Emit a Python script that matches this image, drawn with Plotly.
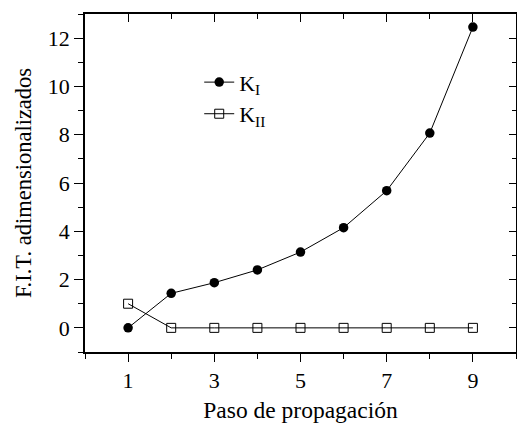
import plotly.graph_objects as go

pasos = [1, 2, 3, 4, 5, 6, 7, 8, 9]
k1 = [0.0, 1.43, 1.87, 2.40, 3.14, 4.15, 5.68, 8.07, 12.46]
k2 = [1.0, 0, 0, 0, 0, 0, 0, 0, 0]
x_ticks = [1, 3, 5, 7, 9]
y_ticks = [0, 2, 4, 6, 8, 10, 12]

FONT = "Liberation Serif"

fig = go.Figure()
fig.add_trace(go.Scatter(
    x=pasos, y=k1, mode="lines+markers", name="K<sub>I</sub>",
    line=dict(color="black", width=1),
    marker=dict(symbol="circle", size=9.5, color="black"),
))
fig.add_trace(go.Scatter(
    x=pasos, y=k2, mode="lines+markers", name="K<sub>II</sub>",
    line=dict(color="black", width=1),
    marker=dict(symbol="square-open", size=9, color="black", line=dict(width=1)),
))
# empty trace so the mirrored (top/right) axes get drawn
fig.add_trace(go.Scatter(x=[], y=[], xaxis="x2", yaxis="y2", showlegend=False,
                         hoverinfo="skip"))

common = dict(showgrid=False, zeroline=False, showline=True, linecolor="black",
              linewidth=1.5, tickcolor="black", tickwidth=1.2, automargin=False)

fig.update_layout(
    width=517, height=425,
    margin=dict(l=85, r=1, t=14, b=73),
    paper_bgcolor="white", plot_bgcolor="white",
    font=dict(family=FONT, size=22, color="black"),
    showlegend=True,
    legend=dict(x=0.265, y=0.86, xanchor="left", yanchor="top",
                bgcolor="rgba(0,0,0,0)", font=dict(family=FONT, size=22, color="black"),
                tracegroupgap=0),
    xaxis=dict(range=[0, 10], tickmode="array", tickvals=x_ticks,
               ticks="outside", ticklen=8,
               tickfont=dict(family=FONT, size=22, color="black"),
               minor=dict(dtick=1, tick0=0, ticks="outside", ticklen=5, tickcolor="black"),
               title=dict(text="Paso de propagación", standoff=9,
                          font=dict(family=FONT, size=23.5, color="black")),
               **common),
    yaxis=dict(range=[-1, 13], tickmode="array", tickvals=y_ticks,
               ticks="outside", ticklen=9,
               tickfont=dict(family=FONT, size=22, color="black"),
               minor=dict(dtick=1, tick0=0, ticks="outside", ticklen=5, tickcolor="black"),
               title=dict(text="F.I.T. adimensionalizados", standoff=10,
                          font=dict(family=FONT, size=22.5, color="black")),
               **common),
    xaxis2=dict(range=[0, 10], overlaying="x", side="top", tickmode="array",
                tickvals=x_ticks, ticks="inside", ticklen=8, showticklabels=False,
                minor=dict(dtick=1, tick0=0, ticks="inside", ticklen=5, tickcolor="black"),
                anchor="y2", **common),
    yaxis2=dict(range=[-1, 13], overlaying="y", side="right", tickmode="array",
                tickvals=y_ticks, ticks="inside", ticklen=7, showticklabels=False,
                minor=dict(dtick=1, tick0=0, ticks="inside", ticklen=4, tickcolor="black"),
                anchor="x2", **common),
)

fig.write_html("out.html", config={"displayModeBar": False},
               post_script="document.body.style.margin='0';document.body.style.overflow='hidden';")
